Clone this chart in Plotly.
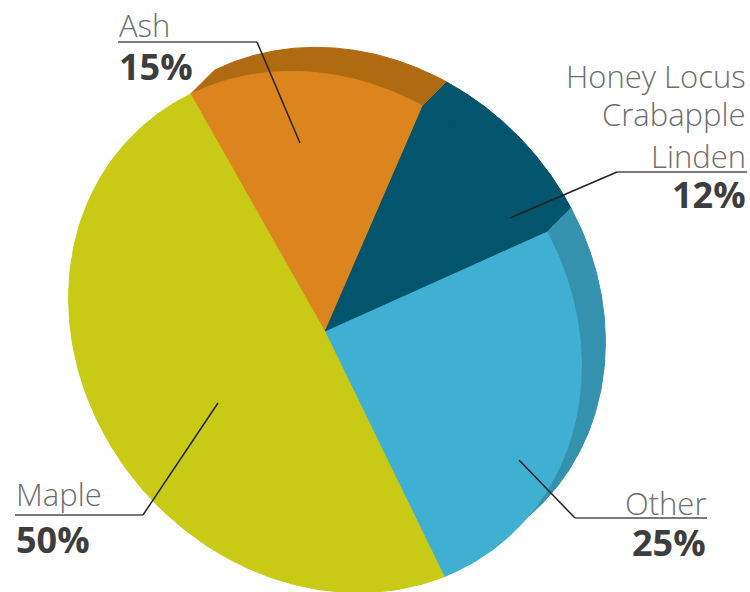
import numpy as np
import plotly.graph_objects as go

# ---- data ----
species = ["Ash", "Honey Locus<br>Crabapple<br>Linden", "Other", "Maple"]
share_pct = [15, 12, 25, 50]
pct_text = [f"{v}%" for v in share_pct]

# ---- style ----
face_colors = ["#DC841E", "#02556C", "#40B0D2", "#C8CA16"]
side_colors = ["#B06A12", "#02556C", "#3492AE", None]   # raised slices get a back face

W, H = 750, 592
CX, CY = 325, 332                  # pie apex, pixel units (y grows downward)
START = 330.5                      # compass bearing where the first slice begins
A_MAJ, B_MIN, TILT = 275.0, 241.0, 48.6   # elliptical outline and its tilt
DX, DY = 24, -24                   # offset of the raised back faces


def outline(psi_deg):
    """Points on the elliptical outline for compass bearings psi (degrees)."""
    phi = np.radians(np.asarray(psi_deg) - 90.0)
    t = phi - np.radians(TILT)
    r = 1.0 / np.sqrt(np.cos(t) ** 2 / A_MAJ ** 2 + np.sin(t) ** 2 / B_MIN ** 2)
    return CX + r * np.cos(phi), CY + r * np.sin(phi)


total = float(sum(share_pct))
edges = START + np.concatenate([[0.0], np.cumsum(share_pct)]) / total * 360.0

fig = go.Figure()

# back faces first (the darker rims / raised parts)
for name, c0, c1, col in zip(species, edges[:-1], edges[1:], side_colors):
    if col is None:
        continue
    ax, ay = outline(np.linspace(c0, c1, 120))
    xs = [CX, ax[0]] + list(ax + DX) + [ax[-1], CX]
    ys = [CY, ay[0]] + list(ay + DY) + [ay[-1], CY]
    fig.add_trace(go.Scatter(x=xs, y=ys, fill="toself", mode="lines",
                             fillcolor=col, line=dict(color=col, width=1),
                             hoverinfo="skip", showlegend=False))

# front faces
for name, val, c0, c1, col in zip(species, share_pct, edges[:-1], edges[1:], face_colors):
    ax, ay = outline(np.linspace(c0, c1, 160))
    xs = [CX] + list(ax) + [CX]
    ys = [CY] + list(ay) + [CY]
    label = name.replace("<br>", ", ")
    fig.add_trace(go.Scatter(x=xs, y=ys, fill="toself", mode="lines",
                             fillcolor=col, line=dict(color=col, width=1),
                             name=label, text=f"{label}: {val}%",
                             hoverinfo="text", showlegend=False))

NAME_FONT = dict(family="Open Sans", size=31, color="#6e6e6e", weight=300)
PCT_FONT = dict(family="Open Sans", size=36, color="#3d3d3d", weight=700)

# callouts: anchor side, text x, name line centres, pct centre,
#           underline x0, x1, y, leader end
callouts = [
    ("left", 118, [25], 66, 118, 257, 42, (300, 143)),
    ("right", 747, [76, 114, 156], 194, 617, 747, 172, (510, 218)),
    ("right", 707, [503], 542, 575, 707, 518, (519, 460)),
    ("left", 15, [494], 539, 15, 143, 515, (218, 403)),
]

annotations = []
shapes = []
for name, pct, (side, tx, ly, py, u0, u1, uy, (lx, lyy)) in zip(species, pct_text, callouts):
    for txt, yy in zip(name.split("<br>"), ly):
        annotations.append(dict(x=tx, y=yy, xref="x", yref="y", text=txt,
                                showarrow=False, xanchor=side, yanchor="middle",
                                font=NAME_FONT, borderpad=0))
    annotations.append(dict(x=tx, y=py, xref="x", yref="y", text=pct,
                            showarrow=False, xanchor=side, yanchor="middle",
                            font=PCT_FONT, borderpad=0))
    shapes.append(dict(type="line", xref="x", yref="y", x0=u0, x1=u1, y0=uy, y1=uy,
                       line=dict(color="#7a7a7a", width=2)))
    kx = u1 if side == "left" else u0
    shapes.append(dict(type="line", xref="x", yref="y", x0=kx, y0=uy, x1=lx, y1=lyy,
                       line=dict(color="#222222", width=1.5)))

fig.update_layout(
    width=W, height=H, autosize=False,
    margin=dict(l=0, r=0, t=0, b=0, pad=0),
    paper_bgcolor="white", plot_bgcolor="white",
    xaxis=dict(range=[0, W], visible=False, fixedrange=True),
    yaxis=dict(range=[H, 0], visible=False, fixedrange=True),
    annotations=annotations, shapes=shapes,
)

fig.write_html("out.html")
